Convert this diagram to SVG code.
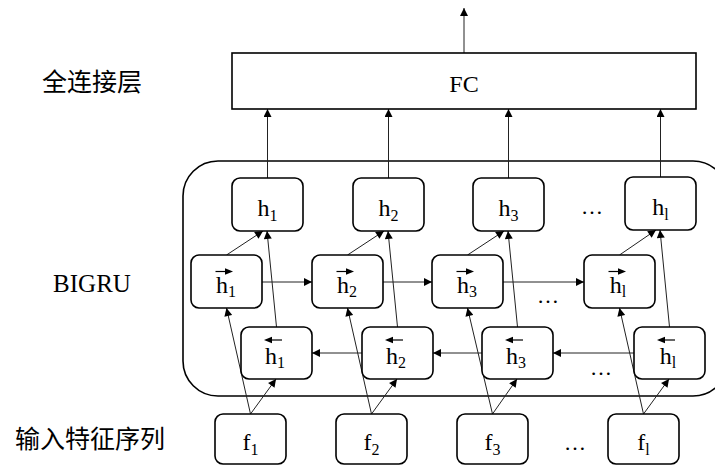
<svg xmlns="http://www.w3.org/2000/svg" width="715" height="466" viewBox="0 0 715 466">
<style>
.box{fill:#fff;stroke:#000;stroke-width:1.6}
.frame{fill:none;stroke:#000;stroke-width:1.6}
.ln{fill:none;stroke:#222;stroke-width:1;marker-end:url(#ah)}
.lbl{font-family:"Liberation Serif","Times New Roman",serif;font-size:24px;fill:#000;text-anchor:middle}
.sub{font-size:16px}
.zh{font-family:"Noto Sans CJK SC","Noto Sans",sans-serif;font-size:25px;fill:#000;text-anchor:middle}
.dots{font-family:"Liberation Serif",serif;font-size:22px;fill:#000;text-anchor:middle}
.acc{stroke:#000;stroke-width:1.2;fill:none}
</style>
<defs>
<marker id="ah" viewBox="0 0 10 10" refX="10" refY="5" markerWidth="9" markerHeight="8" orient="auto" markerUnits="userSpaceOnUse"><path d="M0,0 L10,5 L0,10 z" fill="#000"/></marker>
</defs>
<rect width="715" height="466" fill="#fff"/>

<g id="labels">
<text class="zh" x="92" y="91">全连接层</text>
<text class="lbl" x="92" y="292" style="font-size:25px">BIGRU</text>
<text class="zh" x="90" y="448">输入特征序列</text>
</g>

<g id="bigru-frame">
<rect class="frame" x="183" y="161" width="545" height="235" rx="35" ry="35"/>
</g>

<g id="connectors">
<line class="ln" x1="464" y1="53" x2="464" y2="8"/>
<!-- top h to FC -->
<line class="ln" x1="267.5" y1="178" x2="267.5" y2="109"/>
<line class="ln" x1="388.5" y1="178" x2="388.5" y2="109"/>
<line class="ln" x1="508.5" y1="178" x2="508.5" y2="109"/>
<line class="ln" x1="660.5" y1="177" x2="660.5" y2="109"/>
<!-- forward to top -->
<line class="ln" x1="226.5" y1="255" x2="263" y2="231"/>
<line class="ln" x1="347.5" y1="255" x2="384" y2="231"/>
<line class="ln" x1="467.5" y1="255" x2="504" y2="231"/>
<line class="ln" x1="619.5" y1="255" x2="656" y2="230"/>
<!-- backward to top -->
<line class="ln" x1="276.5" y1="327" x2="267" y2="231"/>
<line class="ln" x1="397.5" y1="327" x2="388" y2="231"/>
<line class="ln" x1="517.5" y1="327" x2="508" y2="231"/>
<line class="ln" x1="669.5" y1="327" x2="660" y2="230"/>
<!-- f to forward -->
<line class="ln" x1="250.5" y1="414" x2="226.5" y2="308"/>
<line class="ln" x1="371.5" y1="414" x2="347.5" y2="308"/>
<line class="ln" x1="492.5" y1="414" x2="467.5" y2="308"/>
<line class="ln" x1="643.5" y1="414" x2="619.5" y2="308"/>
<!-- f to backward -->
<line class="ln" x1="250.5" y1="414" x2="276" y2="379"/>
<line class="ln" x1="371.5" y1="414" x2="397" y2="379"/>
<line class="ln" x1="492.5" y1="414" x2="517" y2="379"/>
<line class="ln" x1="643.5" y1="414" x2="669" y2="379"/>
<!-- forward horizontal -->
<line class="ln" x1="262" y1="282" x2="312" y2="282"/>
<line class="ln" x1="383" y1="282" x2="432" y2="282"/>
<line class="ln" x1="503" y1="282" x2="584" y2="282"/>
<!-- backward horizontal -->
<line class="ln" x1="634" y1="353" x2="553" y2="353"/>
<line class="ln" x1="482" y1="353" x2="433" y2="353"/>
<line class="ln" x1="362" y1="353" x2="312" y2="353"/>
</g>

<g id="fc">
<rect class="box" x="232" y="53" width="464" height="56"/>
<text class="lbl" x="464" y="92">FC</text>
</g>

<g id="h1">
<rect class="box" x="232" y="178" width="71" height="53" rx="8"/>
<text class="lbl" x="267.5" y="216">h<tspan class="sub" dy="5">1</tspan></text>
</g>
<g id="h2">
<rect class="box" x="353" y="178" width="71" height="53" rx="8"/>
<text class="lbl" x="388.5" y="216">h<tspan class="sub" dy="5">2</tspan></text>
</g>
<g id="h3">
<rect class="box" x="473" y="178" width="71" height="53" rx="8"/>
<text class="lbl" x="508.5" y="216">h<tspan class="sub" dy="5">3</tspan></text>
</g>
<g id="hl">
<rect class="box" x="625" y="177" width="71" height="53" rx="8"/>
<text class="lbl" x="660.5" y="215">h<tspan class="sub" dy="5">l</tspan></text>
</g>
<text class="dots" x="592" y="214">…</text>

<g id="fw1">
<rect class="box" x="191" y="255" width="71" height="53" rx="8"/>
<text class="lbl" x="226" y="293">h<tspan class="sub" dy="4">1</tspan></text>
<line class="acc" x1="215.5" y1="271.5" x2="227" y2="271.5"/><path d="M225,268.2 L233,271.5 L225,274.8 z"/>
</g>
<g id="fw2">
<rect class="box" x="312" y="255" width="71" height="53" rx="8"/>
<text class="lbl" x="347" y="293">h<tspan class="sub" dy="4">2</tspan></text>
<line class="acc" x1="336.5" y1="271.5" x2="348" y2="271.5"/><path d="M346,268.2 L354,271.5 L346,274.8 z"/>
</g>
<g id="fw3">
<rect class="box" x="432" y="255" width="71" height="53" rx="8"/>
<text class="lbl" x="467" y="293">h<tspan class="sub" dy="4">3</tspan></text>
<line class="acc" x1="456.5" y1="271.5" x2="468" y2="271.5"/><path d="M466,268.2 L474,271.5 L466,274.8 z"/>
</g>
<g id="fwl">
<rect class="box" x="584" y="255" width="71" height="53" rx="8"/>
<text class="lbl" x="618" y="293">h<tspan class="sub" dy="4">l</tspan></text>
<line class="acc" x1="608.5" y1="271.5" x2="620" y2="271.5"/><path d="M618,268.2 L626,271.5 L618,274.8 z"/>
</g>
<text class="dots" x="548" y="303">…</text>

<g id="bw1">
<rect class="box" x="241" y="327" width="71" height="52" rx="8"/>
<text class="lbl" x="275" y="364">h<tspan class="sub" dy="4">1</tspan></text>
<line class="acc" x1="270" y1="340" x2="282" y2="340"/><path d="M272,336.7 L264,340 L272,343.3 z"/>
</g>
<g id="bw2">
<rect class="box" x="362" y="327" width="71" height="52" rx="8"/>
<text class="lbl" x="396" y="364">h<tspan class="sub" dy="4">2</tspan></text>
<line class="acc" x1="391" y1="340" x2="403" y2="340"/><path d="M393,336.7 L385,340 L393,343.3 z"/>
</g>
<g id="bw3">
<rect class="box" x="482" y="327" width="71" height="52" rx="8"/>
<text class="lbl" x="516" y="364">h<tspan class="sub" dy="4">3</tspan></text>
<line class="acc" x1="511" y1="340" x2="523" y2="340"/><path d="M513,336.7 L505,340 L513,343.3 z"/>
</g>
<g id="bwl">
<rect class="box" x="634" y="327" width="71" height="52" rx="8"/>
<text class="lbl" x="668" y="364">h<tspan class="sub" dy="4">l</tspan></text>
<line class="acc" x1="663" y1="340" x2="675" y2="340"/><path d="M665,336.7 L657,340 L665,343.3 z"/>
</g>
<text class="dots" x="601" y="375">…</text>

<g id="f1">
<rect class="box" x="215" y="414" width="71" height="50" rx="8"/>
<text class="lbl" x="250.5" y="450">f<tspan class="sub" dy="5">1</tspan></text>
</g>
<g id="f2">
<rect class="box" x="336" y="414" width="71" height="50" rx="8"/>
<text class="lbl" x="371.5" y="450">f<tspan class="sub" dy="5">2</tspan></text>
</g>
<g id="f3">
<rect class="box" x="457" y="414" width="71" height="50" rx="8"/>
<text class="lbl" x="492.5" y="450">f<tspan class="sub" dy="5">3</tspan></text>
</g>
<g id="fl">
<rect class="box" x="608" y="414" width="71" height="50" rx="8"/>
<text class="lbl" x="643.5" y="450">f<tspan class="sub" dy="5">l</tspan></text>
</g>
<text class="dots" x="575" y="450">…</text>
</svg>
